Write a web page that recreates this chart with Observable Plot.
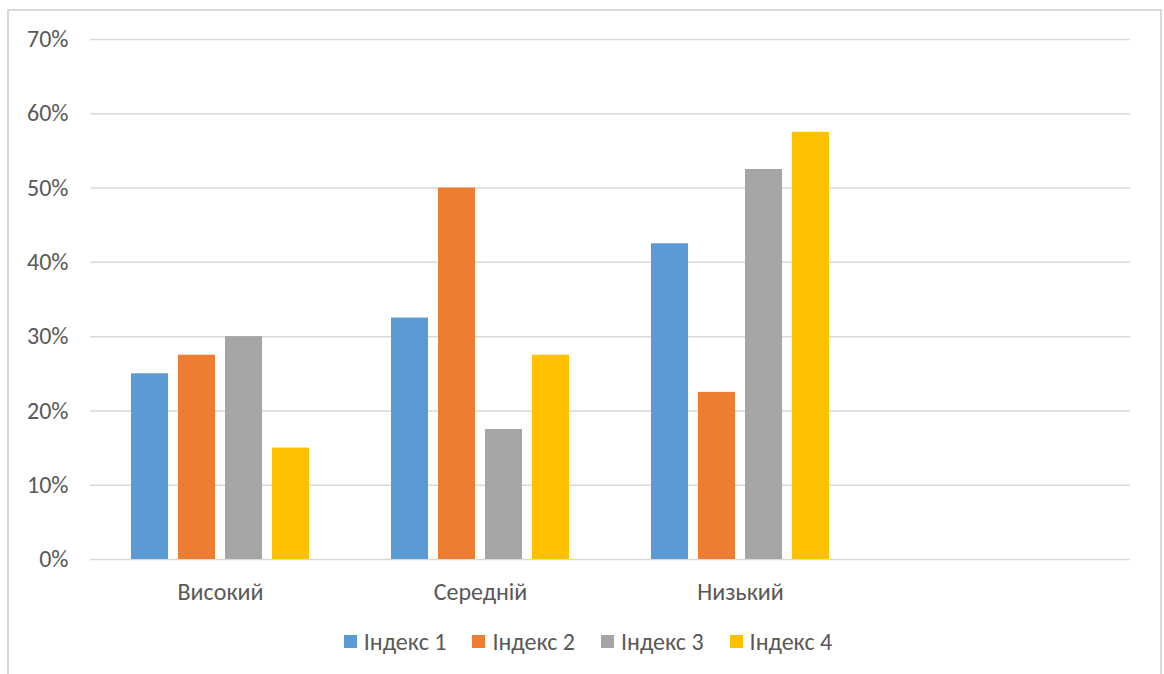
<!DOCTYPE html>
<html>
<head>
<meta charset="utf-8">
<script src="https://cdn.jsdelivr.net/npm/d3@7"></script>
<script src="https://cdn.jsdelivr.net/npm/@observablehq/plot@0.6"></script>
<style>
  html, body { margin: 0; padding: 0; background: #fff; }
  body { width: 1164px; height: 674px; overflow: hidden; position: relative; font-family: Calibri, Carlito, Roboto, sans-serif; }
  #frame { position: absolute; left: 7px; top: 9px; width: 1151px; height: 720px; border: 2px solid #d9d9d9; box-sizing: content-box; }
  #chart { position: absolute; left: 0; top: 0; }
  #legend { position: absolute; left: 0; top: 627px; width: 1176px; display: flex; justify-content: center; gap: 26px; font-size: 24px; color: #595959; }
  .item { display: flex; align-items: center; }
  .sw { width: 13px; height: 13px; margin-right: 7px; }
</style>
</head>
<body>
<div id="frame"></div>
<div id="chart"></div>
<div id="legend"></div>
<script>
const categories = ["Високий", "Середній", "Низький", ""];
const series = ["Індекс 1", "Індекс 2", "Індекс 3", "Індекс 4"];
const index1 = [0.25, 0.325, 0.425];
const index2 = [0.275, 0.50, 0.225];
const index3 = [0.30, 0.175, 0.525];
const index4 = [0.15, 0.275, 0.575];
const yTicks = [0, 0.1, 0.2, 0.3, 0.4, 0.5, 0.6, 0.7];
const colors = ["#5B9BD5", "#ED7D31", "#A5A5A5", "#FFC000"];

const seriesValues = [index1, index2, index3, index4];
const data = [];
series.forEach((s, i) => {
  seriesValues[i].forEach((v, j) => data.push({category: categories[j], series: s, value: v}));
});
const grid = [];
categories.forEach(c => yTicks.forEach(t => grid.push({category: c, tick: t})));

const chart = Plot.plot({
  width: 1164,
  height: 610,
  marginLeft: 88,
  marginRight: 33,
  marginTop: 39,
  marginBottom: 51,
  style: {fontFamily: "Calibri, Carlito, Roboto, sans-serif", fontSize: "24px", color: "#595959", background: "transparent"},
  fx: {domain: categories, paddingInner: 0, paddingOuter: 0, label: null, axis: "bottom", tickSize: 0, tickPadding: 23},
  x: {domain: series, paddingInner: 0.21, paddingOuter: 0.86, axis: null},
  y: {domain: [0, 0.7], ticks: yTicks, tickFormat: d => Math.round(d * 100) + "%", tickSize: 0, tickPadding: 22, label: null},
  color: {domain: series, range: colors},
  marks: [
    Plot.ruleY(grid, {fx: "category", y: "tick", stroke: "#d9d9d9", strokeWidth: 1.5}),
    Plot.barY(data, {fx: "category", x: "series", y: "value", fill: "series"})
  ]
});
document.getElementById("chart").appendChild(chart);

const legend = document.getElementById("legend");
series.forEach((s, i) => {
  const item = document.createElement("div");
  item.className = "item";
  const sw = document.createElement("div");
  sw.className = "sw";
  sw.style.background = colors[i];
  const t = document.createElement("span");
  t.textContent = s;
  item.appendChild(sw);
  item.appendChild(t);
  legend.appendChild(item);
});
</script>
</body>
</html>
